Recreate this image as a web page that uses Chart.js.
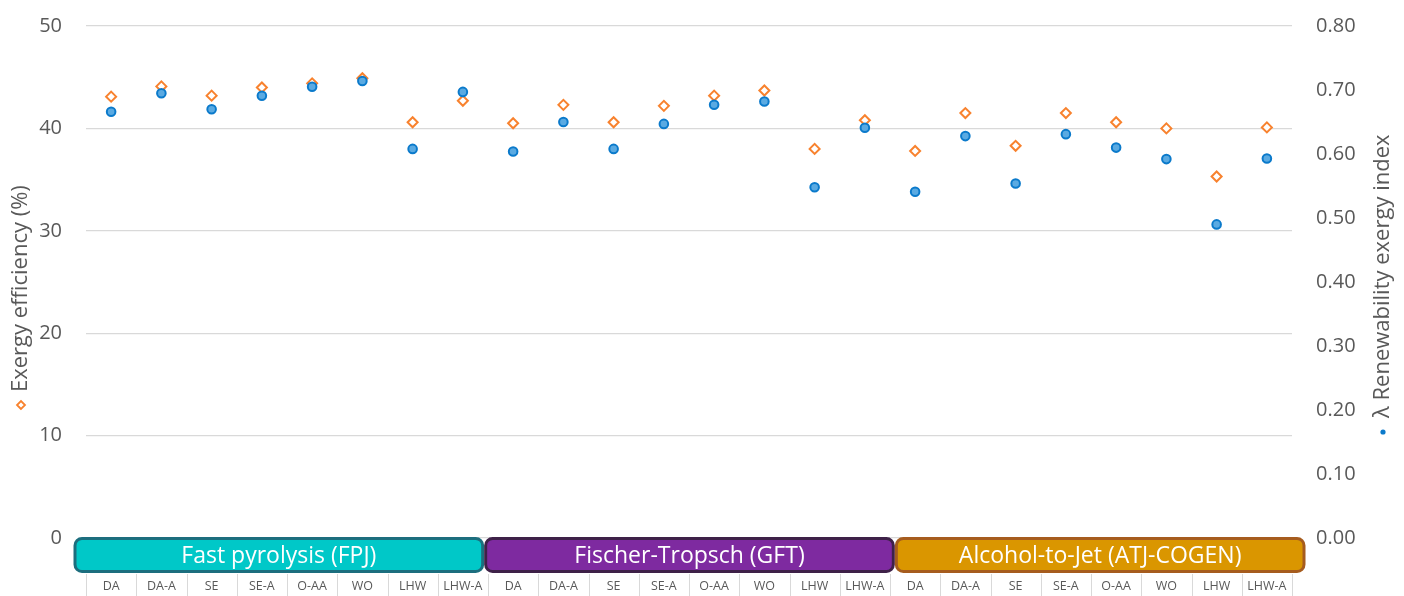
<!DOCTYPE html>
<html><head><meta charset="utf-8">
<script src="https://cdn.jsdelivr.net/npm/chart.js@4.4.1/dist/chart.umd.min.js"></script>
<style>html,body{margin:0;padding:0;background:#fff;}#wrap{width:1404px;height:596px;position:relative;}</style>
</head><body><div id="wrap"><canvas id="c" width="1404" height="596"></canvas></div>
<script>
const pathways = ['DA','DA-A','SE','SE-A','O-AA','WO','LHW','LHW-A'];
const groups = ['Fast pyrolysis (FPJ)','Fischer-Tropsch (GFT)','Alcohol-to-Jet (ATJ-COGEN)'];
const groupFill = ['#00C8C8','#7E2AA0','#DA9600'];
const groupBorder = ['#1C6E7E','#3E2148','#A65C1E'];
const categories = [...pathways, ...pathways, ...pathways];
const exergyEfficiency = [43.1,44.1,43.2,44.0,44.4,44.9,40.6,42.7, 40.5,42.3,40.6,42.2,43.2,43.7,38.0,40.8, 37.8,41.5,38.3,41.5,40.6,40.0,35.3,40.1];
const renewabilityIndex = [0.666,0.695,0.670,0.691,0.705,0.714,0.608,0.697, 0.604,0.650,0.608,0.647,0.677,0.682,0.548,0.641, 0.541,0.628,0.554,0.631,0.610,0.592,0.490,0.593];
const leftTicks = [0,10,20,30,40,50];
const rightTicks = [0,0.1,0.2,0.3,0.4,0.5,0.6,0.7,0.8];
const leftTitle = 'Exergy efficiency (%)';
const rightTitle = 'λ Renewability exergy index';

const FONT = "'Open Sans', sans-serif";
const GRAY = '#595959';
const ORANGE = '#F8822E';
const BLUE = '#0B7ACB';

const decor = {
  id: 'decor',
  afterDraw(chart) {
    const ctx = chart.ctx, xs = chart.scales.x, ca = chart.chartArea;
    const n = categories.length;
    const catW = (xs.getPixelForValue(n - 1) - xs.getPixelForValue(0)) / (n - 1);
    const b0 = xs.getPixelForValue(0) - catW / 2;
    const bN = xs.getPixelForValue(n - 1) + catW / 2;
    ctx.save();
    ctx.strokeStyle = '#D9D9D9'; ctx.lineWidth = 1;
    for (let k = 0; k <= n; k++) {
      const x = Math.round(b0 + k * catW) + 0.5;
      ctx.beginPath(); ctx.moveTo(x, ca.bottom + 36); ctx.lineTo(x, chart.height); ctx.stroke();
    }
    const L = b0 - 13, R = bN + 13, bw = (R - L) / groups.length;
    groups.forEach((g, i) => {
      const x0 = L + i * bw + 2, x1 = L + (i + 1) * bw - 1;
      const y0 = ca.bottom + 0.5, y1 = ca.bottom + 33.5;
      ctx.beginPath();
      ctx.roundRect(x0, y0, x1 - x0, y1 - y0, 7);
      ctx.fillStyle = groupFill[i]; ctx.fill();
      ctx.lineWidth = 3; ctx.strokeStyle = groupBorder[i]; ctx.stroke();
      ctx.fillStyle = '#FFFFFF'; ctx.font = '23px ' + FONT;
      ctx.textAlign = 'center'; ctx.textBaseline = 'middle';
      ctx.fillText(g, (x0 + x1) / 2, (y0 + y1) / 2 + 1);
    });
    ctx.font = '22px ' + FONT; ctx.fillStyle = GRAY;
    ctx.textAlign = 'left'; ctx.textBaseline = 'middle';
    ctx.save();
    ctx.translate(21, 392); ctx.rotate(-Math.PI / 2);
    ctx.fillText(leftTitle, 0, 0);
    ctx.beginPath();
    ctx.moveTo(-13 - 4, 0); ctx.lineTo(-13, -4); ctx.lineTo(-13 + 4, 0); ctx.lineTo(-13, 4); ctx.closePath();
    ctx.fillStyle = '#fff'; ctx.fill(); ctx.lineWidth = 1.8; ctx.strokeStyle = ORANGE; ctx.stroke();
    ctx.restore();
    ctx.save();
    ctx.translate(1383, 418); ctx.rotate(-Math.PI / 2);
    ctx.fillStyle = GRAY;
    ctx.fillText(rightTitle, 0, 0);
    ctx.beginPath(); ctx.arc(-14, 0, 2.6, 0, Math.PI * 2);
    ctx.fillStyle = BLUE; ctx.fill();
    ctx.restore();
    ctx.restore();
  }
};

function fixV(width) {
  return s => { s.width = width; s.paddingTop = 0; s.paddingBottom = 0; };
}

new Chart(document.getElementById('c'), {
  type: 'line',
  data: {
    labels: categories,
    datasets: [
      {
        label: 'λ Renewability exergy index', data: renewabilityIndex, yAxisID: 'y1', order: 0,
        showLine: false, pointStyle: 'circle', pointRadius: 4.3, pointBorderWidth: 2,
        pointBorderColor: BLUE, pointBackgroundColor: '#5AAAE2', borderColor: BLUE, backgroundColor: '#5AAAE2'
      },
      {
        label: 'Exergy efficiency (%)', data: exergyEfficiency, yAxisID: 'y', order: 1,
        showLine: false, pointStyle: 'rectRot', pointRadius: 5, pointBorderWidth: 2,
        pointBorderColor: ORANGE, pointBackgroundColor: '#FFFFFF', borderColor: ORANGE, backgroundColor: '#FFFFFF'
      }
    ]
  },
  options: {
    responsive: false, animation: false, devicePixelRatio: 1,
    layout: { autoPadding: false, padding: { top: 26, left: 0, right: 0, bottom: 0 } },
    plugins: { legend: { display: false }, tooltip: { enabled: false } },
    scales: {
      x: {
        type: 'category', offset: true,
        grid: { display: false, drawTicks: false }, border: { display: false },
        ticks: { autoSkip: false, maxRotation: 0, padding: 41, color: GRAY, font: { family: FONT, size: 12.5 } },
        afterFit: s => { s.height = 58; s.paddingLeft = 0; s.paddingRight = 0; }
      },
      y: {
        position: 'left', min: 0, max: 50,
        afterBuildTicks: s => { s.ticks = leftTicks.map(v => ({ value: v })); },
        ticks: { padding: 24, color: GRAY, font: { family: FONT, size: 20 } },
        grid: { color: '#D9D9D9', lineWidth: 1.3, drawTicks: false }, border: { display: false },
        afterFit: fixV(86)
      },
      y1: {
        position: 'right', min: 0, max: 0.8,
        afterBuildTicks: s => { s.ticks = rightTicks.map(v => ({ value: v })); },
        ticks: { padding: 24, color: GRAY, font: { family: FONT, size: 20 }, callback: v => Number(v).toFixed(2) },
        grid: { drawOnChartArea: false, drawTicks: false }, border: { display: false },
        afterFit: fixV(112)
      }
    }
  },
  plugins: [decor]
});
</script></body></html>
